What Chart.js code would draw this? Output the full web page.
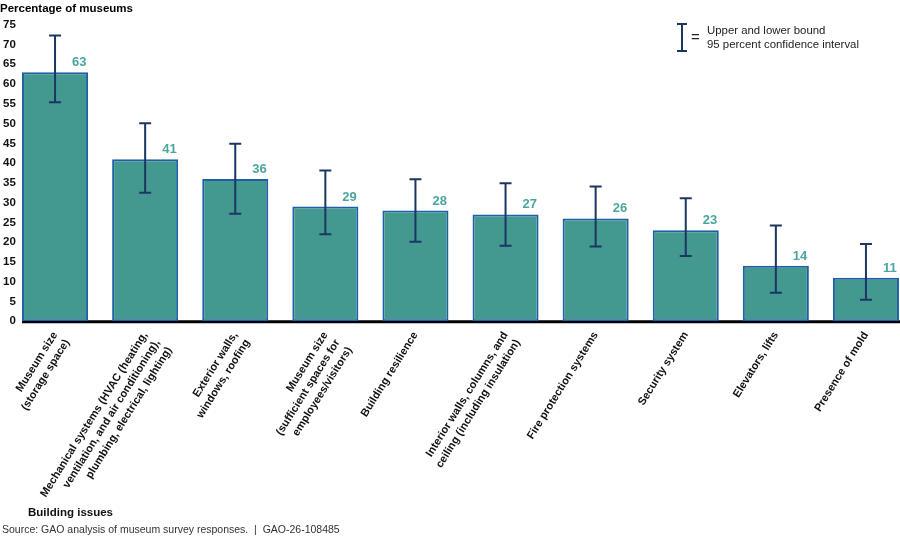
<!DOCTYPE html>
<html>
<head>
<meta charset="utf-8">
<script src="https://cdn.jsdelivr.net/npm/chart.js@4.4.1/dist/chart.umd.min.js"></script>
<style>
  html, body { margin: 0; padding: 0; background: #fff; overflow: hidden; }
  #wrap { width: 911px; height: 538px; }
</style>
</head>
<body>
<div id="wrap"><canvas id="museum-issues" width="911" height="538"></canvas></div>
<script>
var issues = [
    ['Museum size', '(storage space)'],
    ['Mechanical systems (HVAC (heating,', 'ventilation, and air conditioning),', 'plumbing, electrical, lighting)'],
    ['Exterior walls,', 'windows, roofing'],
    ['Museum size', '(sufficient spaces for', 'employees/visitors)'],
    'Building resilience',
    ['Interior walls, columns, and', 'ceiling (including insulation)'],
    'Fire protection systems',
    'Security system',
    'Elevators, lifts',
    'Presence of mold'
];
var percents = [63, 41, 36, 29, 28, 27, 26, 23, 14, 11];
var upperBound = [72.3, 50.1, 44.9, 38.1, 35.9, 34.9, 34.1, 31.1, 24.2, 19.5];
var lowerBound = [55.4, 32.5, 27.2, 22.0, 20.1, 19.1, 18.9, 16.5, 7.2, 5.4];
var yMin = 0, yMax = 75, yStep = 5;

var teal = '#43998f';
var navy = '#1b3661';
var font = 'Arial, "Liberation Sans", sans-serif';

// black base line, drawn under the bars
var baseLine = {
    id: 'baseLine',
    beforeDatasetsDraw: function (chart) {
        var ctx = chart.ctx;
        var bars = chart.getDatasetMeta(0).data;
        var y = chart.scales.y.getPixelForValue(0);
        ctx.save();
        ctx.strokeStyle = '#000';
        ctx.lineWidth = 3;
        ctx.beginPath();
        ctx.moveTo(bars[0].x - bars[0].width / 2, y + 0.5);
        ctx.lineTo(chart.width, y + 0.5);
        ctx.stroke();
        ctx.restore();
    }
};

// confidence intervals + value labels
var errorBars = {
    id: 'errorBars',
    afterDatasetsDraw: function (chart) {
        var ctx = chart.ctx;
        var yScale = chart.scales.y;
        var bars = chart.getDatasetMeta(0).data;
        ctx.save();
        bars.forEach(function (bar, i) {
            var x = bar.x;
            var yHi = yScale.getPixelForValue(upperBound[i]);
            var yLo = yScale.getPixelForValue(lowerBound[i]);
            ctx.strokeStyle = navy;
            ctx.lineWidth = 2;
            ctx.beginPath();
            ctx.moveTo(x, yHi); ctx.lineTo(x, yLo);
            ctx.moveTo(x - 6, yHi); ctx.lineTo(x + 6, yHi);
            ctx.moveTo(x - 6, yLo); ctx.lineTo(x + 6, yLo);
            ctx.stroke();

            ctx.fillStyle = '#4aa69c';
            ctx.font = 'bold 13px ' + font;
            ctx.textAlign = 'left';
            ctx.textBaseline = 'alphabetic';
            ctx.fillText(percents[i], x + 17, bar.y - 6);
        });
        ctx.restore();
    }
};

// legend box, axis title and source line
var notes = {
    id: 'notes',
    afterDraw: function (chart) {
        var ctx = chart.ctx;
        ctx.save();
        ctx.strokeStyle = navy;
        ctx.lineWidth = 2;
        ctx.beginPath();
        ctx.moveTo(682, 24); ctx.lineTo(682, 51);
        ctx.moveTo(677, 24); ctx.lineTo(687, 24);
        ctx.moveTo(677, 51); ctx.lineTo(687, 51);
        ctx.stroke();

        ctx.fillStyle = '#222';
        ctx.textBaseline = 'middle';
        ctx.textAlign = 'left';
        ctx.font = '15px ' + font;
        ctx.fillText('=', 691, 38);
        ctx.font = '11.4px ' + font;
        ctx.fillText('Upper and lower bound', 707, 31);
        ctx.fillText('95 percent confidence interval', 707, 45);

        ctx.fillStyle = '#111';
        ctx.font = 'bold 11.5px ' + font;
        ctx.fillText('Building issues', 28, 513);

        ctx.fillStyle = '#333';
        ctx.font = '10.5px ' + font;
        ctx.fillText('Source: GAO analysis of museum survey responses.  |  GAO-26-108485', 2, 530);
        ctx.restore();
    }
};

new Chart(document.getElementById('museum-issues').getContext('2d'), {
    type: 'bar',
    data: {
        labels: issues,
        datasets: [{
            data: percents,
            backgroundColor: teal,
            borderColor: '#1f5fa5',
            borderWidth: 2,
            borderSkipped: false,
            categoryPercentage: 1,
            barPercentage: 0.733
        }]
    },
    options: {
        responsive: false,
        animation: false,
        layout: { padding: { left: 0, right: 0, top: 0, bottom: 15 } },
        plugins: {
            legend: { display: false },
            tooltip: { enabled: false },
            title: {
                display: true,
                text: 'Percentage of museums',
                align: 'start',
                color: '#000',
                font: { family: font, size: 11.5, weight: 'bold' },
                padding: { top: 2, bottom: 9 }
            }
        },
        scales: {
            x: {
                grid: { display: false, drawTicks: false },
                border: { display: false },
                ticks: {
                    autoSkip: false,
                    minRotation: 58,
                    maxRotation: 58,
                    padding: 8,
                    color: '#111',
                    font: { family: font, size: 11, weight: 'bold', lineHeight: 1.3 }
                }
            },
            y: {
                min: yMin,
                max: yMax,
                grid: { display: false, drawTicks: false },
                border: { display: false },
                afterFit: function (scale) { scale.width = 10; },
                ticks: {
                    stepSize: yStep,
                    mirror: true,
                    padding: -7,
                    color: '#111',
                    font: { family: font, size: 11.5, weight: 'bold' },
                    // two spaces = one digit width, keeps the numbers right-aligned
                    callback: function (v) { return v < 10 ? '  ' + v : String(v); }
                }
            }
        }
    },
    plugins: [baseLine, errorBars, notes]
});
</script>
</body>
</html>
